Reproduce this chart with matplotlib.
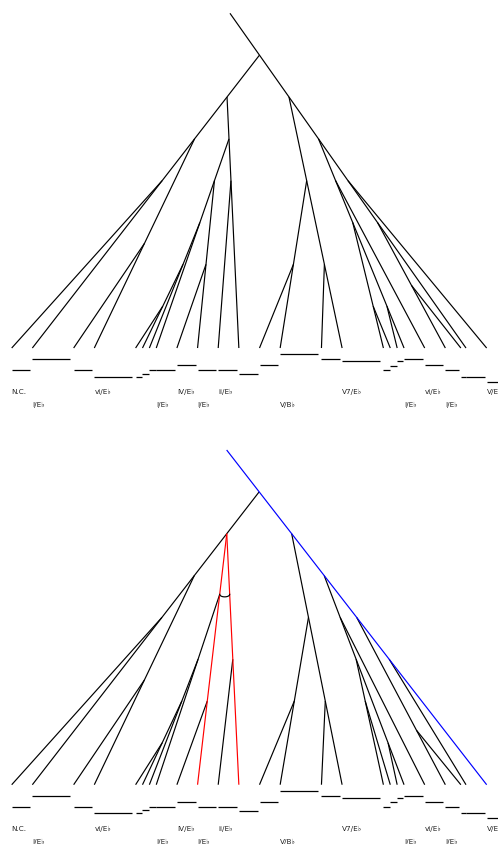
import matplotlib
matplotlib.use("Agg")
import matplotlib.pyplot as plt
import numpy as np

# ---------------- data ----------------
onsets = [0, 1, 3, 4, 6, 6 + 1/3, 6 + 2/3, 7, 8, 9, 10, 11, 12, 13, 15, 16,
          18, 18 + 1/3, 18 + 2/3, 19, 20, 21, 21.75, 22, 23]
durations = [1, 2, 1, 2, 1/3, 1/3, 1/3, 1, 1, 1, 1, 1, 1, 2, 1, 2,
             1/3, 1/3, 1/3, 1, 1, 0.75, 0.25, 1, 1]
# height of each note bar (larger = higher)
pitches = [14, 25, 14, 7.3, 7.3, 10.3, 14, 14, 19, 14, 14, 9.7, 19, 29.7, 25, 23,
           14, 18.3, 23, 25, 19, 14, 7.3, 7.3, 2.3]
chords = ["N.C.", "I/E\u266d", "", "vi/E\u266d", "", "", "", "I/E\u266d", "IV/E\u266d",
          "I/E\u266d", "ii/E\u266d", "", "", "V/B\u266d", "", "V7/E\u266d", "", "", "",
          "I/E\u266d", "vi/E\u266d", "I/E\u266d", "", "", "V/E\u266d"]

# upper tree: parent leaf (-1 = root) and level where the branch joins
top_parent = [1, 23, 3, 1, 5, 6, 7, 11, 9, 7, 11, 1, 13, 15, 15, 23,
              19, 16, 19, 23, 19, 23, 21, -1, 23]
top_level = [4, 1, 5.5, 3, 7, 6, 5, 3, 6, 4, 4, 2, 6, 4, 6, 2,
             5, 7, 7, 3, 4, 5, 6.5, 0, 4]
top_root_x = 10.57

# lower tree
bot_parent = [1, 24, 3, 1, 5, 6, 7, 9, 9, 1, 11, 1, 13, 15, 15, 24,
              19, 16, 19, 24, 19, 24, 21, 24, -1]
bot_level = [4, 1, 5.5, 3, 7, 6, 5, 3.45, 6, 2, 5, 2, 6, 4, 6, 2,
             5, 6, 7, 3, 4, 4, 6.7, 5, 0]
bot_root_x = 10.41
bot_red = [9, 11]
bot_blue = [24]
arc_pair = (9, 11)
arc_level = 3.45

# ---------------- layout ----------------
W, H = 498, 844
PX_BEAT = 20.65
X0 = 11.7
PX_LEVEL = 41.84
LEAF_LEVEL = 8

fig = plt.figure(figsize=(W / 100, H / 100), dpi=100)


def make_ax(px_top, px_bottom, y0):
    ax = fig.add_axes([0, 1 - px_bottom / H, 1, (px_bottom - px_top) / H])
    ax.set_xlim(-X0 / PX_BEAT, (W - X0) / PX_BEAT)
    ax.set_ylim((px_bottom - y0) / PX_LEVEL, (px_top - y0) / PX_LEVEL)
    ax.axis("off")
    return ax


def branch_lines(parent, level, root_x):
    n = len(parent)
    tops = [None] * n

    def top_of(i):
        if tops[i] is not None:
            return tops[i]
        p = parent[i]
        if p < 0:
            tops[i] = (root_x, level[i])
        else:
            px, pl = top_of(p)
            xb = onsets[p]
            t = (LEAF_LEVEL - level[i]) / (LEAF_LEVEL - pl)
            tops[i] = (xb + (px - xb) * t, level[i])
        return tops[i]

    for i in range(n):
        top_of(i)
    return tops


def draw_panel(ax, parent, level, root_x, red=(), blue=(), arc=None):
    tops = branch_lines(parent, level, root_x)
    for i, (tx, tl) in enumerate(tops):
        c = "red" if i in red else ("blue" if i in blue else "black")
        ax.plot([onsets[i], tx], [LEAF_LEVEL, tl], color=c, lw=0.85,
                solid_capstyle="butt", zorder=3 if c != "black" else 2)
    if arc is not None:
        (a, b), al = arc
        xs = []
        for i in (a, b):
            tx, tl = tops[i]
            t = (LEAF_LEVEL - al) / (LEAF_LEVEL - tl)
            xs.append(onsets[i] + (tx - onsets[i]) * t)
        th = np.linspace(0, np.pi, 30)
        cx, rx = (xs[0] + xs[1]) / 2, (xs[1] - xs[0]) / 2
        ax.plot(cx + rx * np.cos(th), al + 0.06 * np.sin(th), color="black", lw=0.85, zorder=4)
    # note bars
    for o, d, p in zip(onsets, durations, pitches):
        y = LEAF_LEVEL + (36 - p) / PX_LEVEL
        ax.plot([o, o + 0.91 * d], [y, y], color="black", lw=0.9, solid_capstyle="butt")
    # chord labels
    k = 0
    for o, c in zip(onsets, chords):
        if not c:
            continue
        dy = 44 if k % 2 == 0 else 57
        ax.text(o, LEAF_LEVEL + dy / PX_LEVEL, c, fontsize=5.2, ha="left", va="center",
                color="#222222", family="DejaVu Sans")
        k += 1


ax1 = make_ax(0, 422, 13.3)
draw_panel(ax1, top_parent, top_level, top_root_x)
ax2 = make_ax(422, 844, 450)
draw_panel(ax2, bot_parent, bot_level, bot_root_x, red=bot_red, blue=bot_blue,
           arc=(arc_pair, arc_level))

fig.savefig("out.png", dpi=100)
